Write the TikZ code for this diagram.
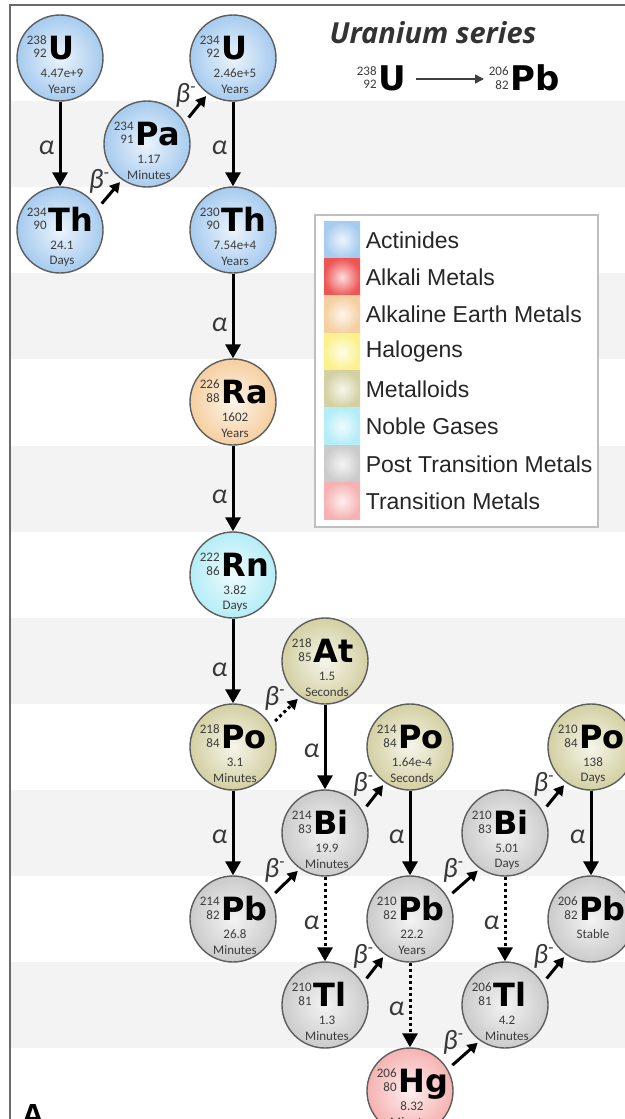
\documentclass[tikz,border=0pt]{standalone}
\usepackage{fontspec}
\setmainfont{Liberation Sans}
\newfontfamily\symbfont{DejaVu Sans}
\newfontfamily\smallfont{Carlito}
\newfontfamily\headfont{Open Sans}
\usetikzlibrary{arrows.meta, positioning}

\definecolor{actin}{HTML}{A6CBEF}
\definecolor{alkali}{HTML}{EE5656}
\definecolor{alkearth}{HTML}{F6CFA0}
\definecolor{halogen}{HTML}{FBF18C}
\definecolor{metalloid}{HTML}{D3D0A2}
\definecolor{noble}{HTML}{B4EDF7}
\definecolor{posttrans}{HTML}{CBCBCB}
\definecolor{transmet}{HTML}{F6B2B2}
\definecolor{ring}{HTML}{5E5E5E}
\definecolor{band}{HTML}{F3F3F3}
\definecolor{framegray}{HTML}{6A6A6A}
\definecolor{numtext}{HTML}{3C3C3C}
\definecolor{greektext}{HTML}{383838}

\newcommand{\alp}{\smallfont\itshape α}
\newcommand{\bet}{\smallfont\itshape β\raisebox{0.75ex}{\fontsize{9}{9}\selectfont -}}

% nucleus: name, x, y, colour, A, Z, symbol, half-life, unit
\newcommand{\nuclide}[9]{%
  \node[nuc, inner color=#4!22!white, outer color=#4] (#1) at (#2,#3) {};
  \node[elem] (#1s) at ([shift={(-12,-10)}]#1.center) {#7};
  \node[nums, anchor=south east] (#1a) at ([shift={(-1,-3)}]#1s.west) {#5};
  \node[nums, anchor=north east] (#1z) at ([shift={(-1,1)}]#1s.west) {#6};
  \node[nums] (#1t) at ([shift={(2,15)}]#1.center) {#8};
  \node[nums] (#1u) at ([shift={(2,31)}]#1.center) {#9};
}

\begin{document}
\begin{tikzpicture}[x=0.5pt,y=-0.5pt]
    \tikzstyle{nuc} = [circle, draw=ring, line width=0.7pt, minimum size=43pt, inner sep=0pt]
    \tikzstyle{elem} = [anchor=west, inner sep=0pt, text height=11.5pt, text depth=0pt, font=\symbfont\bfseries\fontsize{16}{16}\selectfont]
    \tikzstyle{nums} = [inner sep=0pt, text=numtext, font=\smallfont\fontsize{6.5}{7}\selectfont]
    \tikzstyle{adecay} = [line width=1.5pt, -{Triangle[width=7.5pt,length=7pt]}]
    \tikzstyle{bdecay} = [line width=1.5pt, -{Triangle[width=5.5pt,length=5pt]}, shorten <=3pt, shorten >=1.5pt]
    \tikzstyle{branch} = [dash pattern=on 1.5pt off 1.5pt]
    \tikzstyle{dlabel} = [text=greektext, inner sep=1pt, font=\fontsize{14}{16}\selectfont]
    \tikzstyle{swatch} = [rectangle, minimum width=18pt, minimum height=18.65pt, inner sep=0pt]
    \tikzstyle{legtext} = [anchor=west, inner sep=0pt, text=black!85, font=\fontsize{11.5}{13}\selectfont]

    \clip (0,0) rectangle (625,1119);

    % grey rows and frame
    \foreach \k in {1,3,5,7,9,11}
      \fill[band] (11,{15+86.1*\k}) rectangle (625,{101+86.1*\k});
    \draw[framegray, line width=1.3pt] (10,1119) -- (10,5) -- (625,5);

    % heading
    \node[text=black!80, font=\headfont\bfseries\itshape\fontsize{14.5}{16}\selectfont] (title) at (433,33) {Uranium series};
    \node[elem, font=\symbfont\bfseries\fontsize{17}{17}\selectfont] (eqU) at (378,79) {U};
    \node[nums, anchor=south east] (eqUa) at ([shift={(-1,-3)}]eqU.west) {238};
    \node[nums, anchor=north east] (eqUz) at ([shift={(-1,1)}]eqU.west) {92};
    \node[elem, font=\symbfont\bfseries\fontsize{17}{17}\selectfont] (eqPb) at (510,79) {Pb};
    \node[nums, anchor=south east] (eqPba) at ([shift={(-1,-3)}]eqPb.west) {206};
    \node[nums, anchor=north east] (eqPbz) at ([shift={(-1,1)}]eqPb.west) {82};
    \draw[black!75, line width=0.7pt, -{Triangle[width=4.5pt,length=4.5pt]}, shorten <=5pt, shorten >=13pt] (eqU) -- (eqPb);

    % legend
    \draw[black!25, fill=white, line width=0.6pt] (315,215) rectangle (598,527);
    \foreach \c/\t [count=\i from 0] in {actin/Actinides, alkali/Alkali Metals, alkearth/Alkaline Earth Metals, halogen/Halogens, metalloid/Metalloids, noble/Noble Gases, posttrans/Post Transition Metals, transmet/Transition Metals}
    {
      \node[swatch, inner color=\c!20!white, outer color=\c] (sw\i) at (342,{240+37.3*\i}) {};
      \node[legtext, right=2.5pt of sw\i] (lt\i) {\t};
    }

    % nuclides
    \nuclide{u238}{60}{58}{actin}{238}{92}{U}{4.47e+9}{Years}
    \nuclide{th234}{60}{230}{actin}{234}{90}{Th}{24.1}{Days}
    \nuclide{pa234}{147}{144}{actin}{234}{91}{Pa}{1.17}{Minutes}
    \nuclide{u234}{233}{58}{actin}{234}{92}{U}{2.46e+5}{Years}
    \nuclide{th230}{233}{230}{actin}{230}{90}{Th}{7.54e+4}{Years}
    \nuclide{ra226}{233}{402}{alkearth}{226}{88}{Ra}{1602}{Years}
    \nuclide{rn222}{233}{575}{noble}{222}{86}{Rn}{3.82}{Days}
    \nuclide{at218}{325}{661}{metalloid}{218}{85}{At}{1.5}{Seconds}
    \nuclide{po218}{233}{747}{metalloid}{218}{84}{Po}{3.1}{Minutes}
    \nuclide{po214}{410}{747}{metalloid}{214}{84}{Po}{1.64e-4}{Seconds}
    \nuclide{po210}{591}{747}{metalloid}{210}{84}{Po}{138}{Days}
    \nuclide{bi214}{325}{833}{posttrans}{214}{83}{Bi}{19.9}{Minutes}
    \nuclide{bi210}{505}{833}{posttrans}{210}{83}{Bi}{5.01}{Days}
    \nuclide{pb214}{233}{919}{posttrans}{214}{82}{Pb}{26.8}{Minutes}
    \nuclide{pb210}{410}{919}{posttrans}{210}{82}{Pb}{22.2}{Years}
    \nuclide{pb206}{591}{919}{posttrans}{206}{82}{Pb}{Stable}{}
    \nuclide{tl210}{325}{1005}{posttrans}{210}{81}{Tl}{1.3}{Minutes}
    \nuclide{tl206}{505}{1005}{posttrans}{206}{81}{Tl}{4.2}{Minutes}
    \nuclide{hg206}{410}{1091}{transmet}{206}{80}{Hg}{8.32}{Minutes}

    % alpha decays
    \draw[adecay] (u238)  -- node[dlabel, left=1pt, pos=.55] {\alp} (th234);
    \draw[adecay] (u234)  -- node[dlabel, left=1pt, pos=.55] {\alp} (th230);
    \draw[adecay] (th230) -- node[dlabel, left=1pt, pos=.6] {\alp} (ra226);
    \draw[adecay] (ra226) -- node[dlabel, left=1pt, pos=.6] {\alp} (rn222);
    \draw[adecay] (rn222) -- node[dlabel, left=1pt, pos=.6] {\alp} (po218);
    \draw[adecay] (po218) -- node[dlabel, left=1pt, pos=.55] {\alp} (pb214);
    \draw[adecay] (at218) -- node[dlabel, left=1pt, pos=.55] {\alp} (bi214);
    \draw[adecay] (po214) -- node[dlabel, left=1pt, pos=.55] {\alp} (pb210);
    \draw[adecay] (po210) -- node[dlabel, left=1pt, pos=.55] {\alp} (pb206);
    \draw[adecay, branch] (bi214) -- node[dlabel, left=1pt, pos=.55] {\alp} (tl210);
    \draw[adecay, branch] (pb210) -- node[dlabel, left=1pt, pos=.55] {\alp} (hg206);
    \draw[adecay, branch] (bi210) -- node[dlabel, left=1pt, pos=.55] {\alp} (tl206);

    % beta decays
    \draw[bdecay] (th234.30) -- node[dlabel, above left=-2pt] {\bet} (pa234.-125);
    \draw[bdecay] (pa234.30) -- node[dlabel, above left=-2pt] {\bet} (u234.-125);
    \draw[bdecay, branch] (po218.30) -- node[dlabel, above left=-2pt] {\bet} (at218.-125);
    \draw[bdecay] (bi214.30) -- node[dlabel, above left=-2pt] {\bet} (po214.-125);
    \draw[bdecay] (pb214.30) -- node[dlabel, above left=-2pt] {\bet} (bi214.-125);
    \draw[bdecay] (pb210.30) -- node[dlabel, above left=-2pt] {\bet} (bi210.-125);
    \draw[bdecay] (bi210.30) -- node[dlabel, above left=-2pt] {\bet} (po210.-125);
    \draw[bdecay] (tl210.30) -- node[dlabel, above left=-2pt] {\bet} (pb210.-125);
    \draw[bdecay] (tl206.30) -- node[dlabel, above left=-2pt] {\bet} (pb206.-125);
    \draw[bdecay] (hg206.30) -- node[dlabel, above left=-2pt] {\bet} (tl206.-125);

    \node[anchor=north west, inner sep=0pt, font=\bfseries\fontsize{16}{16}\selectfont] (panel) at (21,1104) {A};
\end{tikzpicture}
\end{document}
